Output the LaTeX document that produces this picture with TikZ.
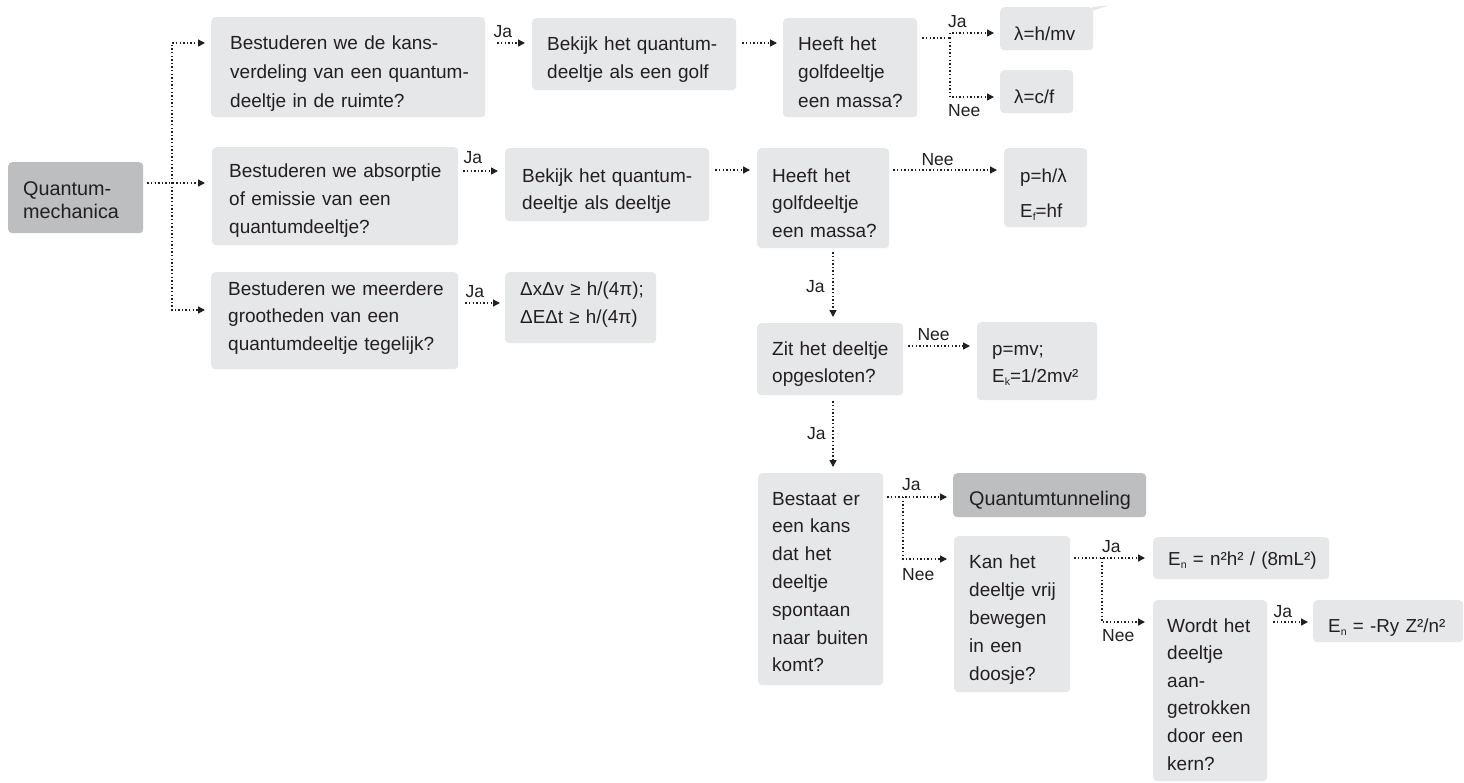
\documentclass[tikz,border=0pt]{standalone}
\usepackage{fontspec}
\setmainfont{Liberation Sans}
\usetikzlibrary{arrows.meta}
\definecolor{cLight}{HTML}{E6E7E8}
\definecolor{cDark}{HTML}{BCBEC0}
\definecolor{cInk}{HTML}{231F20}
\newcommand{\subx}[1]{\raisebox{-0.35ex}{\fontsize{10.5}{10}\selectfont #1}}
\begin{document}
\begin{tikzpicture}[x=1pt,y=-1pt,
  lb/.style={fill=cLight, draw=none, rounded corners=4pt, inner sep=0pt, anchor=north west},
  db/.style={lb, fill=cDark},
  txt/.style={anchor=base west, inner sep=0pt, align=left, text=cInk, text width=300pt, font=\fontsize{19}{#1}\selectfont},
  dtxt/.style={anchor=base west, inner sep=0pt, align=left, text=cInk, text width=300pt, font=\fontsize{19.8}{#1}\selectfont},
  ftxt/.style={anchor=base west, inner sep=0pt, align=left, text=cInk, text width=300pt, font=\fontsize{18.8}{#1}\selectfont},
  lbl/.style={anchor=base west, inner sep=0pt, text=cInk, font=\fontsize{17.5}{18}\selectfont},
  dotl/.style={draw=cInk, line width=1.4pt, dash pattern=on 1.4pt off 2.2pt},
  arr/.style={dotl, -{Triangle[length=7pt,width=7pt]}}
]
\useasboundingbox (0,0) rectangle (1464,782);
\fill[white] (0,0) rectangle (1464,782);

% boxes
\node[db, minimum width=135pt, minimum height=71pt] (qm) at (8,162) {};
\node[lb, minimum width=274pt, minimum height=100pt] (q1) at (211,17) {};
\node[lb, minimum width=246pt, minimum height=98pt] (q2) at (212,147) {};
\node[lb, minimum width=247pt, minimum height=97pt] (q3) at (211,272) {};
\node[lb, minimum width=204pt, minimum height=72pt] (b1) at (532,18) {};
\node[lb, minimum width=204pt, minimum height=73pt] (b2) at (505,148) {};
\node[lb, minimum width=134pt, minimum height=99pt] (h1) at (783,18) {};
\node[lb, minimum width=132pt, minimum height=100pt] (h2) at (757,148) {};
\node[lb, minimum width=93pt, minimum height=43pt] (l1) at (1000,7) {};
\fill[cLight] (1092,7) -- (1109,5.5) -- (1092,11) -- cycle;
\node[lb, minimum width=73pt, minimum height=43pt] (l2) at (1000,70) {};
\node[lb, minimum width=83pt, minimum height=79pt] (p1) at (1004,148) {};
\node[lb, minimum width=151pt, minimum height=71pt] (d1) at (505,272) {};
\node[lb, minimum width=146pt, minimum height=72pt] (zit) at (757,323) {};
\node[lb, minimum width=120pt, minimum height=78pt] (pmv) at (977,322) {};
\node[lb, minimum width=125pt, minimum height=212pt] (bestaat) at (758,473) {};
\node[db, minimum width=193pt, minimum height=44pt] (qt) at (953,473) {};
\node[lb, minimum width=116pt, minimum height=156pt] (kan) at (954,536) {};
\node[lb, minimum width=176pt, minimum height=42pt] (en1) at (1153,537) {};
\node[lb, minimum width=114pt, minimum height=181pt] (wordt) at (1153,600) {};
\node[lb, minimum width=150pt, minimum height=42pt] (en2) at (1313,600) {};

% texts
\node[dtxt=23] (tqm) at (23,195) {Quantum-\\mechanica};
\node[txt=29] (tq1) at (230,49) {Bestuderen we de kans-\\verdeling van een quantum-\\deeltje in de ruimte?};
\node[txt=28] (tq2) at (229,177) {Bestuderen we absorptie\\of emissie van een\\quantumdeeltje?};
\node[txt=27.5] (tq3) at (228,295) {Bestuderen we meerdere\\grootheden van een\\quantumdeeltje tegelijk?};
\node[txt=28.5] (tb1) at (547,50) {Bekijk het quantum-\\deeltje als een golf};
\node[txt=27] (tb2) at (522,182) {Bekijk het quantum-\\deeltje als deeltje};
\node[txt=28.5] (th1) at (798,50) {Heeft het\\golfdeeltje\\een massa?};
\node[txt=27.5] (th2) at (772,182) {Heeft het\\golfdeeltje\\een massa?};
\node[ftxt=20] (tl1) at (1014,40) {λ=h/mv};
\node[ftxt=20] (tl2) at (1014,103) {λ=c/f};
\node[ftxt=35] (tp1) at (1020,182) {p=h/λ\\E\subx{f}=hf};
\node[ftxt=28] (td1) at (520,295) {ΔxΔv ≥ h/(4π);\\ΔEΔt ≥ h/(4π)};
\node[txt=27] (tzit) at (772,355) {Zit het deeltje\\opgesloten?};
\node[ftxt=27] (tpmv) at (992,355) {p=mv;\\E\subx{k}=1/2mv²};
\node[txt=27.8] (tbestaat) at (772,505) {Bestaat er\\een kans\\dat het\\deeltje\\spontaan\\naar buiten\\komt?};
\node[dtxt=20] (tqt) at (969,505) {Quantumtunneling};
\node[txt=28] (tkan) at (969,568) {Kan het\\deeltje vrij\\bewegen\\in een\\doosje?};
\node[ftxt=20] (ten1) at (1168,565) {E\subx{n} = n²h² / (8mL²)};
\node[txt=27.6] (twordt) at (1167,632) {Wordt het\\deeltje\\aan-\\getrokken\\door een\\kern?};
\node[ftxt=20] (ten2) at (1328,632) {E\subx{n} = -Ry Z²/n²};

% connectors: root
\coordinate (j0) at (172,183);
\draw[arr] ([shift={(4,21)}]qm.north east) -- ([shift={(-7,36)}]q2.north west);
\draw[arr] (j0) |- ([shift={(-6,26)}]q1.north west);
\draw[arr] (j0) |- ([shift={(-6,38)}]q3.north west);

% row 1
\draw[arr] ([shift={(12,26)}]q1.north east) -- ([shift={(-7,25)}]b1.north west);
\node[lbl] (lja1) at ([shift={(8,20)}]q1.north east) {Ja};
\draw[arr] ([shift={(6,25)}]b1.north east) -- ([shift={(-6,25)}]h1.north west);
\coordinate (j1) at (950,38);
\draw[dotl] ([shift={(5,20)}]h1.north east) -- (j1);
\draw[arr] (j1) |- ([shift={(-6,26)}]l1.north west);
\draw[arr] (j1) |- ([shift={(-6,27)}]l2.north west);
\node[lbl] (lja2) at ([shift={(-52,20)}]l1.north west) {Ja};
\node[lbl] (lnee1) at ([shift={(-52,46)}]l2.north west) {Nee};

% row 2
\draw[arr] ([shift={(5,24)}]q2.north east) -- ([shift={(-7,23)}]b2.north west);
\node[lbl] (lja3) at ([shift={(5,16)}]q2.north east) {Ja};
\draw[arr] ([shift={(6,22)}]b2.north east) -- ([shift={(-7,22)}]h2.north west);
\draw[arr] ([shift={(4,22)}]h2.north east) -- ([shift={(-7,22)}]p1.north west);
\node[lbl] (lnee2) at ([shift={(32,17)}]h2.north east) {Nee};

% row 3
\draw[arr] ([shift={(7,31)}]q3.north east) -- ([shift={(-5,31)}]d1.north west);
\node[lbl] (lja4) at ([shift={(7,25)}]q3.north east) {Ja};

% vertical chain
\draw[arr] ([shift={(76,4)}]h2.south west) -- ([shift={(76,-6)}]zit.north west);
\node[lbl] (lja5) at ([shift={(49,-31)}]zit.north west) {Ja};
\draw[arr] ([shift={(5,23)}]zit.north east) -- ([shift={(-7,24)}]pmv.north west);
\node[lbl] (lnee3) at ([shift={(14,17)}]zit.north east) {Nee};
\draw[arr] ([shift={(76,6)}]zit.south west) -- ([shift={(75,-6)}]bestaat.north west);
\node[lbl] (lja6) at ([shift={(49,-34)}]bestaat.north west) {Ja};

% bestaat branch
\coordinate (j2) at (903,497);
\draw[arr] ([shift={(4,24)}]bestaat.north east) -- ([shift={(-6,24)}]qt.north west);
\draw[arr] (j2) |- ([shift={(-7,23)}]kan.north west);
\node[lbl] (lja7) at ([shift={(-51,17)}]qt.north west) {Ja};
\node[lbl] (lnee4) at ([shift={(-52,44)}]kan.north west) {Nee};

% kan branch
\coordinate (j3) at (1102,558);
\draw[arr] ([shift={(4,22)}]kan.north east) -- ([shift={(-8,21)}]en1.north west);
\draw[arr] (j3) |- ([shift={(-8,22)}]wordt.north west);
\node[lbl] (lja8) at ([shift={(-51,15)}]en1.north west) {Ja};
\node[lbl] (lnee5) at ([shift={(-51,41)}]wordt.north west) {Nee};

% wordt
\draw[arr] ([shift={(6,22)}]wordt.north east) -- ([shift={(-5,22)}]en2.north west);
\node[lbl] (lja9) at ([shift={(6,17)}]wordt.north east) {Ja};
\end{tikzpicture}
\end{document}
